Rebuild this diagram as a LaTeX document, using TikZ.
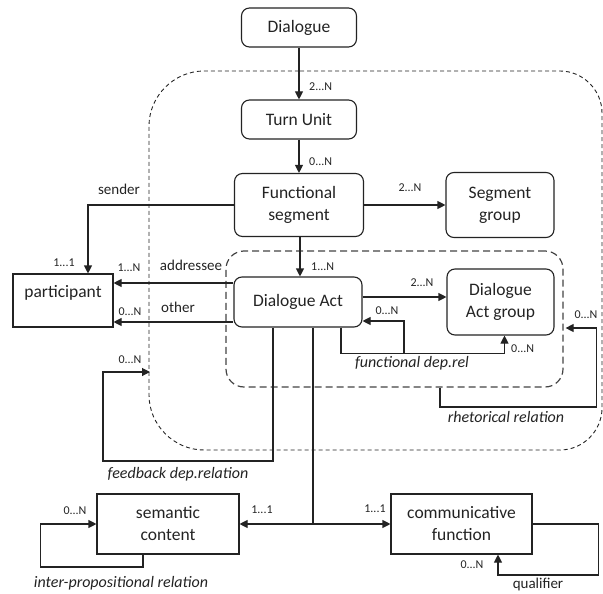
\documentclass[tikz,border=0pt]{standalone}
\usepackage{fontspec}
\setmainfont{Carlito}
\usetikzlibrary{arrows.meta,calc}
\definecolor{ink}{RGB}{35,35,35}
\tikzset{
  rbox/.style={draw=ink, line width=1.1pt, rounded corners=8pt, align=center, inner sep=0pt, font=\fontsize{17.5}{22}\selectfont, text=ink},
  pbox/.style={draw=ink, line width=1.1pt, align=center, inner sep=0pt, font=\fontsize{17.5}{22}\selectfont, text=ink},
  conn/.style={draw=ink, line width=1.1pt},
  arr/.style={conn, -{Triangle[length=8pt,width=8pt]}},
  mult/.style={font=\fontsize{12}{13}\selectfont, text=ink, inner sep=0pt},
  rolelab/.style={font=\fontsize{15}{16}\selectfont, text=ink, inner sep=0pt},
  rellab/.style={font=\fontsize{16}{17}\selectfont\itshape, text=ink, inner sep=0pt},
  outerdash/.style={draw=ink, line width=0.9pt, dash pattern=on 4pt off 3pt},
  innerdash/.style={draw=ink!85, line width=1.2pt, dash pattern=on 7pt off 4pt, rounded corners=18pt},
}
\begin{document}
\begin{tikzpicture}[x=1pt,y=-1pt]
\useasboundingbox (0,0) rectangle (603,594);
\clip (0,0) rectangle (603,594);

% outer dashed region
\draw[outerdash] (300,71) -- (560,71) .. controls (583,71) and (602,90) .. (602,113)
  -- (602,408) .. controls (602,431) and (583,450) .. (560,450)
  -- (204,450) .. controls (174,450) and (149,425) .. (149,395)
  -- (149,126) .. controls (149,96) and (174,71) .. (204,71) -- cycle;

% inner dashed region
\node[innerdash, minimum width=337pt, minimum height=136pt] (inner) at (394.5,319) {};

% nodes
\node[rbox, minimum width=115pt, minimum height=39pt] (dlg) at (299,27.5) {Dialogue};
\node[rbox, minimum width=115pt, minimum height=39pt] (tu) at (299,119.5) {Turn Unit};
\node[rbox, minimum width=129pt, minimum height=63pt] (fs) at (299,205) {Functional\\segment};
\node[rbox, minimum width=108pt, minimum height=65pt] (sg) at (500,205) {Segment\\group};
\node[rbox, minimum width=128pt, minimum height=50pt] (da) at (298,302) {Dialogue Act};
\node[rbox, minimum width=107pt, minimum height=66pt] (dag) at (500.5,302) {Dialogue\\Act group};
\node[pbox, minimum width=100pt, minimum height=53pt,
  label={[font=\fontsize{17.5}{22}\selectfont, text=ink, yshift=8pt]center:participant}] (part) at (63,300.5) {};
\node[pbox, minimum width=142pt, minimum height=60pt] (sc) at (168,524) {semantic\\content};
\node[pbox, minimum width=141pt, minimum height=60pt] (cf) at (461.5,524) {communicative\\function};

% main chain
\draw[arr] (dlg) -- (tu);
\node[mult, anchor=west] at (309,87) {2...N};
\draw[arr] (tu) -- (fs);
\node[mult, anchor=west] at (309,162) {0...N};
\draw[arr] (fs) -- (sg);
\node[mult] at (410,188) {2...N};
\draw[arr] ([xshift=1pt]fs.south) -- ([xshift=2pt]da.north);
\node[mult, anchor=west] at (311,267) {1...N};

% sender
\draw[arr] (fs.west) -| ([xshift=25pt]part.north);
\node[rolelab] at (119,189) {sender};
\node[mult] at (64,263) {1...1};

% addressee / other
\draw[arr] ([yshift=19pt]da.west) -- ([yshift=19pt]da.west -| part.east);
\node[mult] at (129,268) {1...N};
\node[rolelab] at (191,265) {addressee};
\draw[arr] ([yshift=-20pt]da.west) -- ([yshift=-20pt]da.west -| part.east);
\node[mult] at (130,312) {0...N};
\node[rolelab] at (178,307) {other};

% DA -> DAG
\draw[arr] ([yshift=5pt]da.east) -- ([yshift=5pt]da.east -| dag.west);
\node[mult] at (422,283) {2...N};

% functional dependence
\coordinate (fdj) at (404,353);
\draw[arr] ([xshift=43pt]da.south) |- ($(dag.south)+(4,18)$) -- ([xshift=4pt]dag.south);
\draw[arr] (fdj) |- ([yshift=-19pt]da.east);
\node[mult] at (387,311) {0...N};
\node[mult, anchor=west] at (511,349) {0...N};
\node[rellab] at (412,363) {functional dep.rel};

% rhetorical relation
\draw[arr] ([xshift=45.5pt]inner.south) |- ($(inner.east)+(33,88)$) |- ([xshift=2pt,yshift=-9pt]inner.east);
\node[mult] at (586,315) {0...N};
\node[rellab] at (506,417) {rhetorical relation};

% feedback dependence
\coordinate (fbend) at (150,372);
\draw[arr] ([xshift=-25pt]da.south) |- ($(fbend)+(-47,89)$) |- (fbend);
\node[mult] at (130,360) {0...N};
\node[rellab] at (178,474) {feedback dep.relation};

% semantic content / communicative function
\coordinate (jn) at (313,524);
\draw[conn] ([xshift=15pt]da.south) -- (jn);
\draw[arr] (jn) -- (sc.east);
\draw[arr] (jn) -- (cf.west);
\node[mult] at (262,510) {1...1};
\node[mult] at (375,509) {1...1};

% inter-propositional loop
\draw[arr] ([xshift=-25pt]sc.south) |- ($(sc.west)+(-56,43)$) |- (sc.west);
\node[mult] at (75,511) {0...N};
\node[rellab] at (121,583) {inter-propositional relation};

% qualifier loop
\draw[arr] (cf.east) -| ($(cf.east)+(66,51)$) -| ([xshift=36.5pt]cf.south);
\node[mult] at (472,565) {0...N};
\node[rolelab] at (538,584) {qualifier};
\end{tikzpicture}
\end{document}
